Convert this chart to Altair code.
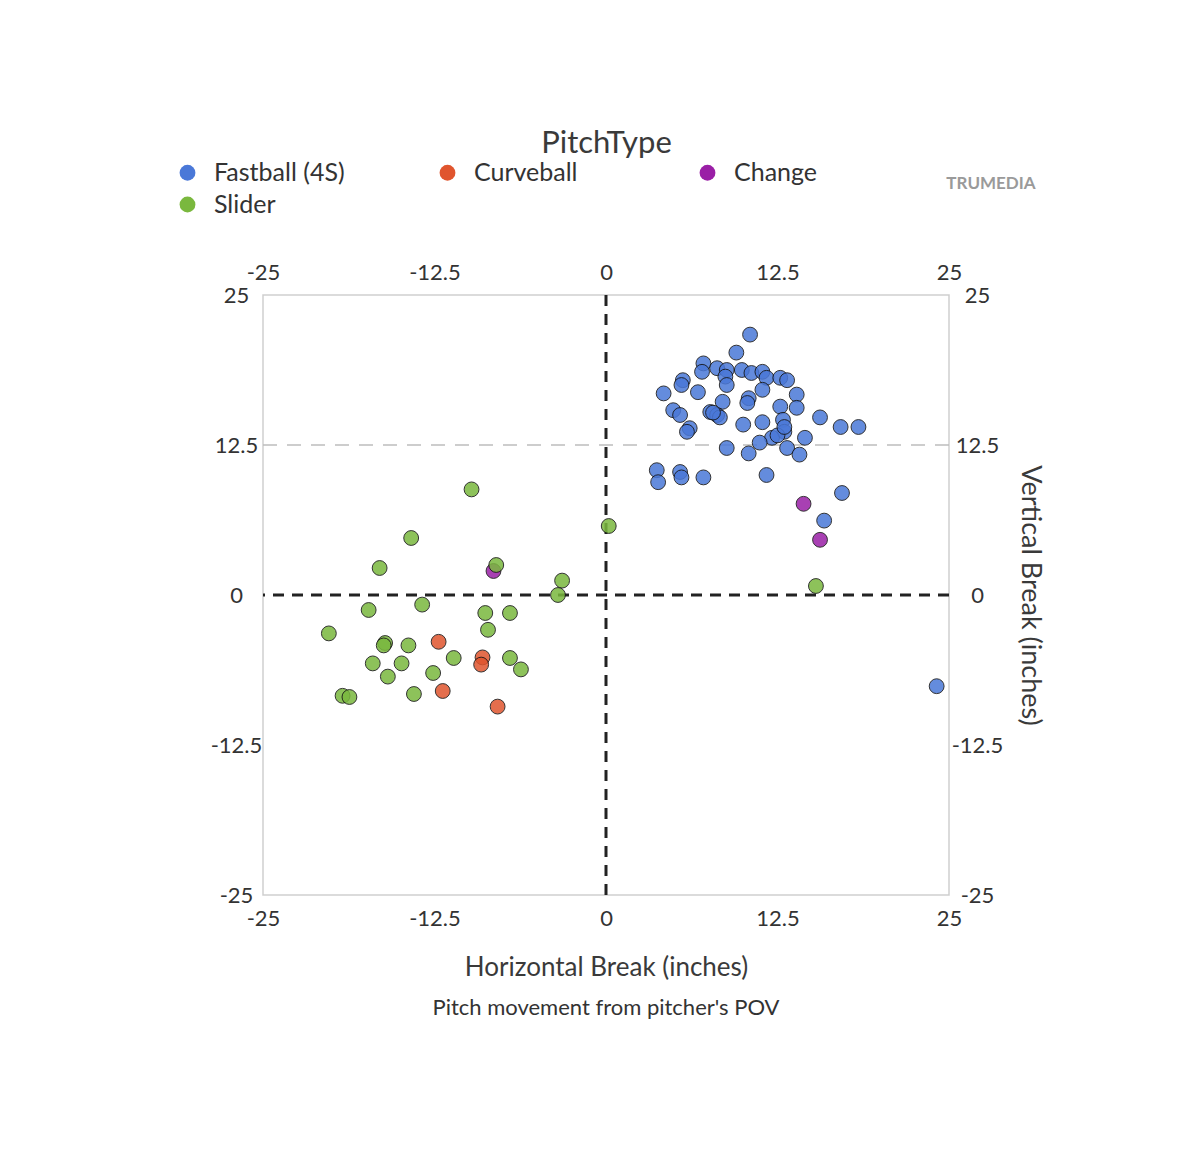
import altair as alt
import pandas as pd

# ---- data ----
pitch_types = ["Fastball (4S)", "Curveball", "Change", "Slider"]
pitch_colors = ["#4a78d8", "#e0552e", "#9a1fa6", "#7ab83e"]
tick_values = [-25, -12.5, 0, 12.5, 25]

fb_hb = [10.5, 9.5, 7.1, 7.0, 8.1, 8.8, 9.9, 10.6, 11.4, 11.7, 12.7, 13.2, 5.6, 5.5,
         4.2, 6.7, 8.7, 8.8, 11.4, 13.9, 10.4, 10.3, 8.5, 12.7, 13.9, 4.9, 5.4, 7.6,
         8.1, 8.3, 15.6, 12.9, 11.4, 10.0, 17.1, 18.4, 6.1, 5.9, 13.0, 14.5, 12.1,
         11.2, 8.8, 10.4, 13.2, 14.1, 3.7, 3.8, 5.4, 5.5, 7.1, 11.7, 17.2, 15.9, 24.1,
         12.5, 13.0, 7.8]
fb_vb = [21.7, 20.2, 19.3, 18.6, 18.9, 18.75, 18.75, 18.5, 18.6, 18.1, 18.1, 17.9, 17.9,
         17.5, 16.8, 16.9, 18.2, 17.5, 17.1, 16.7, 16.4, 16.0, 16.1, 15.7, 15.6, 15.4,
         15.0, 15.25, 15.0, 14.8, 14.8, 14.6, 14.4, 14.2, 14.0, 14.0, 13.9, 13.6, 13.6,
         13.1, 13.1, 12.7, 12.25, 11.8, 12.25, 11.7, 10.4, 9.4, 10.25, 9.8, 9.8, 10.0,
         8.5, 6.2, -7.6, 13.3, 14.0, 15.2]

sl_hb = [-9.8, -14.2, -16.5, -8.0, -3.2, -3.5, -17.3, -13.4, -8.8, -7.0, -8.6, -20.2,
         -16.1, -16.2, -14.4, -11.1, -17.0, -14.9, -7.0, -6.2, -15.9, -12.6, -19.2,
         -18.7, -14.0, 0.2, 15.3]
sl_vb = [8.8, 4.75, 2.25, 2.5, 1.2, 0.0, -1.25, -0.8, -1.5, -1.5, -2.9, -3.2, -4.0,
         -4.2, -4.2, -5.25, -5.7, -5.7, -5.25, -6.2, -6.8, -6.5, -8.4, -8.5, -8.25,
         5.75, 0.75]

cu_hb = [-12.2, -9.0, -9.1, -11.9, -7.9]
cu_vb = [-3.9, -5.2, -5.8, -8.0, -9.3]

ch_hb = [14.4, 15.6, -8.2]
ch_vb = [7.6, 4.6, 2.0]

rows = []
for name, hbs, vbs in [("Change", ch_hb, ch_vb), ("Fastball (4S)", fb_hb, fb_vb),
                       ("Curveball", cu_hb, cu_vb), ("Slider", sl_hb, sl_vb)]:
    for h, v in zip(hbs, vbs):
        rows.append({"PitchType": name, "HB": h, "VB": v})
df = pd.DataFrame(rows)

FONT = "Lato"
LABEL_EXPR = "datum.value + ''"
xscale = alt.Scale(domain=[-25, 25], nice=False, zero=False)
yscale = alt.Scale(domain=[-25, 25], nice=False, zero=False)

common_axis = dict(values=tick_values, labelExpr=LABEL_EXPR, grid=False, ticks=False,
                   tickSize=0, domain=False, labelFontSize=22, labelColor="#333",
                   labelFont=FONT, titleFont=FONT, titleColor="#3a3a3a",
                   titleFontWeight="normal", labelOverlap=False, labelFlush=False)

points = alt.Chart(df).mark_circle(size=220, opacity=0.85, stroke="#111",
                                   strokeWidth=1).encode(
    x=alt.X("HB:Q", scale=xscale,
            axis=alt.Axis(orient="bottom", labelPadding=23, labelBaseline="middle",
                          title="Horizontal Break (inches)", titleX=343, titleY=72,
                          titleBaseline="middle", titleAlign="center", titleFontSize=26,
                          **common_axis)),
    y=alt.Y("VB:Q", scale=yscale,
            axis=alt.Axis(orient="left", labelPadding=27, labelAlign="center",
                          labelBaseline="middle", title=None, **common_axis)),
    color=alt.Color("PitchType:N",
                    scale=alt.Scale(domain=pitch_types, range=pitch_colors),
                    legend=alt.Legend(orient="none", legendX=-88, legendY=-135,
                                      direction="horizontal", values=pitch_types,
                                      columns=3, gridAlign="all", columnPadding=90,
                                      rowPadding=6, symbolType="circle", symbolSize=250,
                                      symbolStrokeWidth=0, symbolOpacity=1,
                                      labelFontSize=25, labelOffset=14, labelFont=FONT,
                                      labelColor="#333", labelLimit=300, title=None)),
)

zero_x = pd.DataFrame({"x": [0.0]})
vline = alt.Chart(zero_x).mark_rule(color="#222", strokeWidth=3,
                                    strokeDash=[11, 8]).encode(
    x=alt.X("x:Q", scale=xscale,
            axis=alt.Axis(orient="top", labelPadding=23, labelBaseline="middle",
                          title="PitchType", titleX=343, titleY=-152,
                          titleBaseline="middle", titleAlign="center", titleFontSize=31,
                          **common_axis)),
)

zero_y = pd.DataFrame({"y": [0.0]})
hline0 = alt.Chart(zero_y).mark_rule(color="#222", strokeWidth=3,
                                     strokeDash=[11, 8]).encode(
    y=alt.Y("y:Q", scale=yscale,
            axis=alt.Axis(orient="right", labelPadding=28, labelAlign="center",
                          labelBaseline="middle", title="Vertical Break (inches)",
                          titleX=80, titleY=300, titleAngle=90, titleBaseline="middle",
                          titleAlign="center", titleFontSize=27, **common_axis)),
)

ref_y = pd.DataFrame({"y": [12.5]})
hline125 = alt.Chart(ref_y).mark_rule(color="#bdbdbd", strokeWidth=1.5,
                                      strokeDash=[14, 10]).encode(
    y=alt.Y("y:Q", scale=yscale, axis=None),
)

subtitle = alt.Chart(pd.DataFrame({"t": ["Pitch movement from pitcher's POV"]})).mark_text(
    font=FONT, fontSize=22, color="#333", align="center", baseline="middle"
).encode(text="t:N", x=alt.value(343), y=alt.value(713))

brand = alt.Chart(pd.DataFrame({"t": ["TRUMEDIA"]})).mark_text(
    font=FONT, fontSize=17, fontWeight="bold", color="#9a9a9a", align="center",
    baseline="middle"
).encode(text="t:N", x=alt.value(728), y=alt.value(-111))

chart = alt.layer(hline125, vline, hline0, points, subtitle, brand).resolve_axis(
    x="independent", y="independent"
).properties(
    width=686, height=600,
    autosize=alt.AutoSizeParams(type="none"),
    padding={"left": 255, "top": 287, "right": 203, "bottom": 233},
).configure(font=FONT, background="white").configure_view(
    stroke="#cfcfcf", strokeWidth=1.5
)

chart.save("out.html", embed_options={"renderer": "svg", "actions": False})
